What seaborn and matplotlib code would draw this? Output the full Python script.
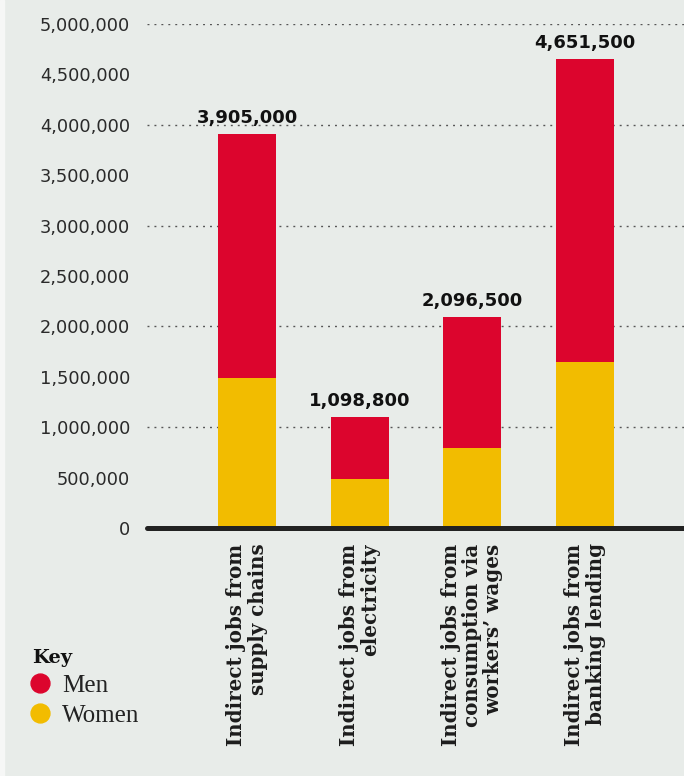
import numpy as np
import pandas as pd
import matplotlib
matplotlib.use("Agg")
import matplotlib.pyplot as plt
from matplotlib.lines import Line2D
from matplotlib.patches import Rectangle
import seaborn as sns

# --- data -------------------------------------------------------------
sources = [
    "Indirect jobs from\nsupply chains",
    "Indirect jobs from\nelectricity",
    "Indirect jobs from\nconsumption via\nworkers\u2019 wages",
    "Indirect jobs from\nbanking lending",
]
women = [1490000, 486000, 794000, 1647000]
men = [2415000, 612800, 1302500, 3004500]
y_ticks = [0, 500000, 1000000, 1500000, 2000000, 2500000,
           3000000, 3500000, 4000000, 4500000, 5000000]
grid_levels = [1000000, 2000000, 3000000, 4000000, 5000000]

BG = "#e8ece9"
RED = "#dc052d"
YELLOW = "#f2bc00"
INK = "#1c1c1c"

df = pd.DataFrame({"source": sources, "women": women, "men": men})
df["total"] = df["women"] + df["men"]

sns.set_style("white", {"axes.facecolor": BG, "figure.facecolor": BG})

W, H = 684, 776
fig = plt.figure(figsize=(W / 100, H / 100), dpi=100, facecolor=BG)
fig.patches.append(Rectangle((0, 0), 4 / W, 1, transform=fig.transFigure,
                             color="#f6f7f6", zorder=-1))
ax = fig.add_axes([147 / W, 1 - 528 / H, 1 - 147 / W, (528 - 24) / H])
ax.set_facecolor(BG)

# stacked bars: full total in red, women overlaid in yellow
sns.barplot(data=df, x="source", y="total", color=RED, saturation=1,
            width=0.515, errorbar=None, ax=ax, zorder=2, linewidth=0)
sns.barplot(data=df, x="source", y="women", color=YELLOW, saturation=1,
            width=0.515, errorbar=None, ax=ax, zorder=2, linewidth=0)

ax.set_xlim(-0.8876, 3.879)
ax.set_ylim(0, 5000000)

for lvl in grid_levels:
    ax.axhline(lvl, color="#555555", lw=1.0, ls=(0, (1.4, 3.6)), zorder=0.5)
ax.axhline(0, color="#222222", lw=3.6, zorder=3, clip_on=False)

for s in ax.spines.values():
    s.set_visible(False)

# totals above bars
for i, t in enumerate(df["total"]):
    ax.annotate(f"{t:,}", (i, t), xytext=(0, 8), textcoords="offset points",
                ha="center", va="baseline", fontsize=13, fontweight="bold",
                color="#111111", family="DejaVu Sans")

ax.set_yticks(y_ticks)
ax.set_yticklabels([f"{v:,}" for v in y_ticks], family="DejaVu Sans",
                   fontweight="normal", fontsize=12.8, color="#2a2a2a")
ax.tick_params(axis="y", length=0, pad=12)

ax.set_xticks(range(len(sources)))
ax.set_xticklabels(sources, rotation=90, ha="center", va="top",
                   multialignment="right", family="DejaVu Serif",
                   fontweight="bold", fontsize=14.3, color=INK,
                   linespacing=1.08)
ax.tick_params(axis="x", length=0, pad=11)
ax.set_xlabel("")
ax.set_ylabel("")

handles = [
    Line2D([], [], marker="o", ls="", markersize=13.6, color=RED),
    Line2D([], [], marker="o", ls="", markersize=13.6, color=YELLOW),
]
leg = fig.legend(handles, ["Men", "Women"], title="Key",
                 loc="upper left", bbox_to_anchor=(32 / W, 1 - 649 / H),
                 frameon=False, alignment="left", borderpad=0,
                 borderaxespad=0, handlelength=0.64, handletextpad=0.56,
                 labelspacing=0.3,
                 prop={"family": "Liberation Serif", "size": 18},
                 title_fontproperties={"family": "DejaVu Serif",
                                       "weight": "bold", "size": 14})
for t in leg.get_texts():
    t.set_color("#222222")
leg.get_title().set_color("#111111")

fig.savefig("out.png", dpi=100, facecolor=BG)
